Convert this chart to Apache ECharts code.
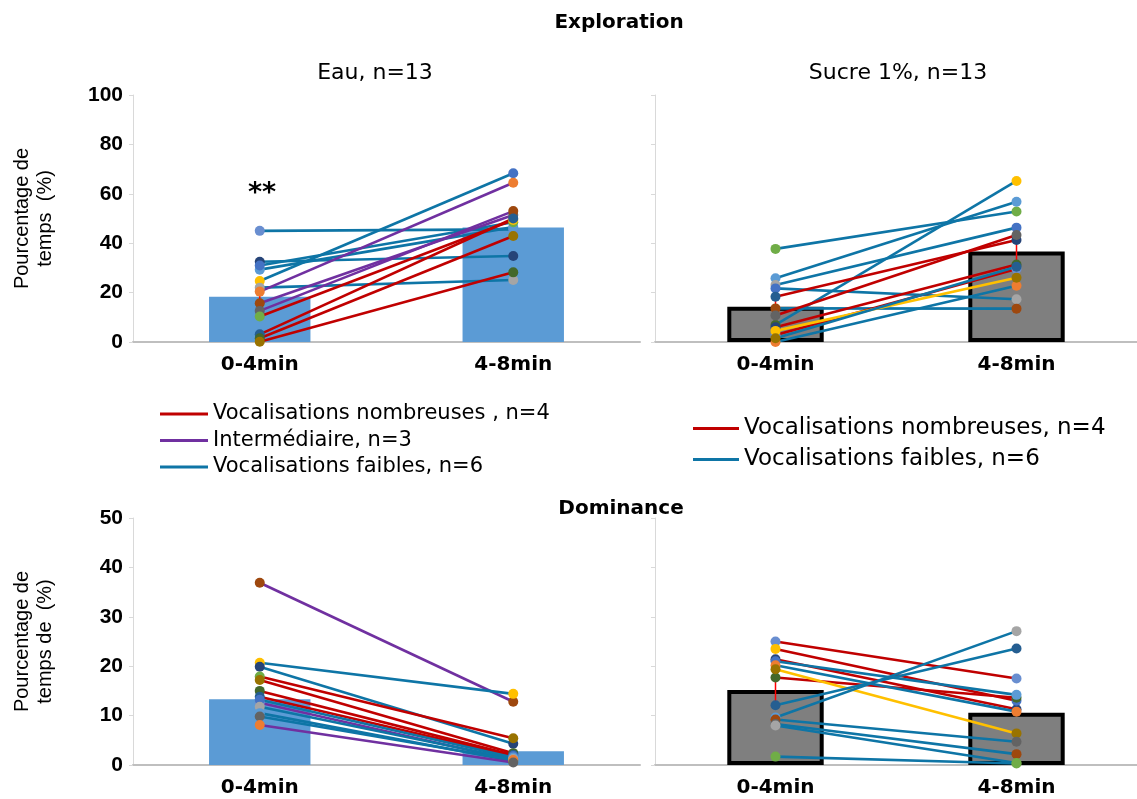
<!DOCTYPE html>
<html><head><meta charset="utf-8">
<script src="https://cdn.jsdelivr.net/npm/echarts@6/dist/echarts.min.js"></script>
<style>html,body{margin:0;padding:0;background:#fff}#c{width:1137px;height:799px}</style>
</head><body><div id="c"></div>
<script>
const categories = ['0-4min', '4-8min'];
const yTicksTop = [0, 20, 40, 60, 80, 100];
const yTicksBottom = [0, 10, 20, 30, 40, 50];

// group codes: R = vocalisations nombreuses, P = intermédiaire, B = vocalisations faibles, Y = autre
// Exploration - Eau
const eauExpGroup = ['B','B','B','B','B','B','P','P','P','R','R','R','R'];
const eauExpT0 = [45.0, 32.5, 29.3, 31.0, 24.7, 22.0, 20.4, 15.7, 12.6, 10.3, 3.1, 1.5, 0.1];
const eauExpT1 = [45.6, 34.8, 46.5, 48.5, 68.3, 25.1, 64.5, 51.4, 53.0, 49.4, 50.0, 42.9, 28.2];
const eauExpMean = [18.3, 46.4];
const eauExpErr = [[0, 20.4, 15.7]];

// Exploration - Sucre 1%
const sucExpGroup = ['B','B','B','B','B','B','B','R','R','R','R','Y','B'];
const sucExpT0 = [37.7, 25.8, 23.1, 21.7, 13.6, 6.9, 0.0, 18.3, 10.7, 6.0, 2.8, 4.5, 1.5];
const sucExpT1 = [52.8, 56.8, 46.3, 17.3, 13.5, 65.2, 22.8, 41.3, 43.3, 31.4, 29.6, 26.0, 30.5];
const sucExpMean = [14.3, 36.6];
const sucExpErr = [[0, 18.3, 13.6], [1, 41.3, 31.4]];

// Dominance - Eau
const eauDomGroup = ['P','B','B','R','R','R','R','P','B','B','B','B','P'];
const eauDomT0 = [36.9, 20.7, 19.9, 17.9, 17.2, 15.0, 13.8, 12.6, 13.2, 11.8, 10.5, 9.8, 8.1];
const eauDomT1 = [12.8, 14.4, 4.3, 5.4, 2.4, 2.0, 1.8, 1.0, 1.5, 1.2, 0.8, 1.0, 0.5];
const eauDomMean = [13.3, 2.8];
const eauDomErr = [];

// Dominance - Sucre 1%
const sucDomGroup = ['R','R','R','R','B','B','Y','B','B','B','B','B','B'];
const sucDomT0 = [25.0, 21.4, 23.5, 17.7, 21.0, 20.2, 19.4, 12.1, 9.6, 9.2, 8.3, 8.0, 1.7];
const sucDomT1 = [17.5, 11.3, 13.0, 13.6, 14.2, 10.8, 6.4, 23.6, 27.1, 4.7, 2.2, 0.4, 0.3];
const sucDomMean = [15.2, 10.6];
const sucDomErr = [[0, 17.7, 12.1], [1, 14.5, 10.3]];

// marker colours (style)
const eauExpC0 = ['#698ED0','#264478','#5B9BD5','#4472C4','#FFC000','#A5A5A5','#ED7D31','#9E480E','#636363','#70AD47','#255E91','#43682B','#997300'];
const eauExpC1 = ['#698ED0','#264478','#5B9BD5','#70AD47','#4472C4','#A5A5A5','#ED7D31','#636363','#9E480E','#FFC000','#255E91','#997300','#43682B'];
const sucExpC0 = ['#70AD47','#5B9BD5','#A5A5A5','#4472C4','#9E480E','#43682B','#ED7D31','#255E91','#636363','#264478','#698ED0','#FFC000','#997300'];
const sucExpC1 = ['#70AD47','#5B9BD5','#4472C4','#A5A5A5','#9E480E','#FFC000','#ED7D31','#264478','#636363','#43682B','#698ED0','#997300','#255E91'];
const eauDomC0 = ['#9E480E','#FFC000','#264478','#70AD47','#997300','#43682B','#255E91','#698ED0','#4472C4','#A5A5A5','#5B9BD5','#636363','#ED7D31'];
const eauDomC1 = ['#9E480E','#FFC000','#264478','#997300','#43682B','#255E91','#4472C4','#698ED0','#5B9BD5','#A5A5A5','#70AD47','#ED7D31','#636363'];
const sucDomC0 = ['#698ED0','#264478','#FFC000','#43682B','#4472C4','#ED7D31','#997300','#255E91','#5B9BD5','#9E480E','#636363','#A5A5A5','#70AD47'];
const sucDomC1 = ['#698ED0','#264478','#4472C4','#43682B','#5B9BD5','#ED7D31','#997300','#255E91','#A5A5A5','#636363','#9E480E','#70AD47','#70AD47'];

const groupColor = {R:'#C00000', P:'#7030A0', B:'#0E75A6', Y:'#FFC000'};
const leftNames = {R:'Vocalisations nombreuses , n=4', P:'Intermédiaire, n=3', B:'Vocalisations faibles, n=6', Y:'autre'};
const rightNames = {R:'Vocalisations nombreuses, n=4', P:'Intermédiaire', B:'Vocalisations faibles, n=6 ', Y:'autre '};

const FONT = 'Liberation Sans, Arial, sans-serif';
const WIDE = 'DejaVu Sans, sans-serif';
const chart = echarts.init(document.getElementById('c'));

const grids = [
  {left:133, top:95, width:507, height:247},
  {left:655, top:95, width:482, height:247},
  {left:133, top:518, width:507, height:247},
  {left:655, top:518, width:482, height:247}
];
const panels = [
  {g:eauExpGroup, t0:eauExpT0, t1:eauExpT1, m:eauExpMean, err:eauExpErr, c0:eauExpC0, c1:eauExpC1, names:leftNames, bar:'#5B9BD5', border:0},
  {g:sucExpGroup, t0:sucExpT0, t1:sucExpT1, m:sucExpMean, err:sucExpErr, c0:sucExpC0, c1:sucExpC1, names:rightNames, bar:'#7F7F7F', border:4},
  {g:eauDomGroup, t0:eauDomT0, t1:eauDomT1, m:eauDomMean, err:eauDomErr, c0:eauDomC0, c1:eauDomC1, names:leftNames, bar:'#5B9BD5', border:0},
  {g:sucDomGroup, t0:sucDomT0, t1:sucDomT1, m:sucDomMean, err:sucDomErr, c0:sucDomC0, c1:sucDomC1, names:rightNames, bar:'#7F7F7F', border:4}
];

const xAxes = grids.map((g, i) => ({
  type:'category', gridIndex:i, data:categories,
  axisLine:{show:true, lineStyle:{color:'#BFBFBF', width:2}},
  axisTick:{show:false},
  axisLabel:{fontFamily:WIDE, fontSize:20, fontWeight:'bold', color:'#000', margin:13}
}));
const yAxes = grids.map((g, i) => {
  const top = i < 2;
  const ticks = top ? yTicksTop : yTicksBottom;
  const left = i % 2 === 0;
  return {
    type:'value', gridIndex:i, min:ticks[0], max:ticks[ticks.length-1], interval:ticks[1]-ticks[0],
    splitLine:{show:false},
    axisLine:{show:true, lineStyle:{color:'#D9D9D9', width:1}},
    axisTick:{show:true, length:4, lineStyle:{color:'#D9D9D9'}},
    axisLabel:{show:left, fontFamily:FONT, fontSize:21, fontWeight:'bold', color:'#000', margin:10},
    name: left ? (top ? 'Pourcentage de\ntemps  (%)' : 'Pourcentage de\ntemps de  (%)') : '',
    nameLocation:'middle', nameRotate:90, nameGap:76,
    nameTextStyle:{fontFamily:FONT, fontSize:20, color:'#000', lineHeight:23}
  };
});

const series = [];
panels.forEach((p, i) => {
  series.push({
    type:'bar', xAxisIndex:i, yAxisIndex:i, data:p.m, barWidth:'40%', silent:true, z:1,
    itemStyle:{color:p.bar, borderColor:'#000', borderWidth:p.border}
  });
  p.err.forEach(e => {
    series.push({
      type:'line', xAxisIndex:i, yAxisIndex:i, data:[[e[0], e[1]], [e[0], e[2]]],
      symbol:'none', lineStyle:{color:'#FF0000', width:1.5}, z:2, silent:true
    });
  });
  p.g.forEach((grp, k) => {
    const col = groupColor[grp];
    series.push({
      type:'line', name:p.names[grp], xAxisIndex:i, yAxisIndex:i, z:3,
      symbol:'circle', symbolSize:10, showSymbol:true,
      lineStyle:{color:col, width:2.6},
      itemStyle:{color:col},
      data:[{value:p.t0[k], itemStyle:{color:p.c0[k]}}, {value:p.t1[k], itemStyle:{color:p.c1[k]}}]
    });
  });
});

const legTxt = {fontFamily:WIDE, fontSize:21, color:'#000', lineHeight:22};
const legTxtR = {fontFamily:WIDE, fontSize:23, color:'#000', lineHeight:22};
chart.setOption({
  animation:false,
  title:[
    {text:'Exploration', left:614, top:8, textAlign:'center', textStyle:{fontFamily:WIDE, fontSize:20, fontWeight:'bold', color:'#000'}},
    {text:'Eau, n=13', left:370, top:57, textAlign:'center', textStyle:{fontFamily:WIDE, fontSize:22, fontWeight:'normal', color:'#000'}},
    {text:'Sucre 1%, n=13', left:893, top:57, textAlign:'center', textStyle:{fontFamily:WIDE, fontSize:22, fontWeight:'normal', color:'#000'}},
    {text:'Dominance', left:616, top:494, textAlign:'center', textStyle:{fontFamily:WIDE, fontSize:20, fontWeight:'bold', color:'#000'}}
  ],
  graphic:[{type:'text', left:248, top:180, style:{text:'**', fontFamily:WIDE, fontSize:27, fontWeight:'bold', fill:'#000'}}],
  legend:[
    {data:[leftNames.R, leftNames.P, leftNames.B], left:155, top:398, orient:'vertical', icon:'rect', itemWidth:48, itemHeight:3, itemGap:4.5, textStyle:legTxt, selectedMode:false},
    {data:[rightNames.R, rightNames.B], left:688, top:412, orient:'vertical', icon:'rect', itemWidth:46, itemHeight:3, itemGap:8, textStyle:legTxtR, selectedMode:false}
  ],
  grid:grids,
  xAxis:xAxes,
  yAxis:yAxes,
  series:series
});
</script></body></html>
